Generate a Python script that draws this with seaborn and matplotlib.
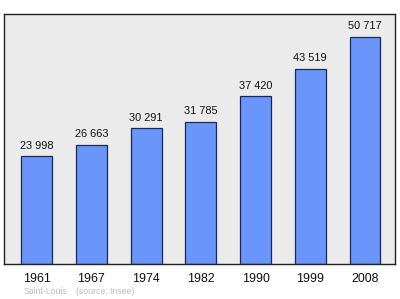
import matplotlib
matplotlib.use("Agg")
import matplotlib.pyplot as plt
import seaborn as sns
import pandas as pd

years = ["1961", "1967", "1974", "1982", "1990", "1999", "2008"]
population = [23998, 26663, 30291, 31785, 37420, 43519, 50717]
value_labels = ["23 998", "26 663", "30 291", "31 785", "37 420", "43 519", "50 717"]
footer_place = "Saint-Louis"
footer_source = "(source: Insee)"

sns.set_theme(style="white")
plt.rcParams['font.family'] = ['Liberation Sans', 'DejaVu Sans']

df = pd.DataFrame({"year": years, "pop": population})

fig = plt.figure(figsize=(4.0, 2.99), dpi=100)
ax = fig.add_axes([0.01, 0.117, 0.9775, 0.836])
ax.set_facecolor("#ebebeb")

sns.barplot(data=df, x="year", y="pop", color="#6a95fb", saturation=1,
            width=0.566, edgecolor="#1a2a55", linewidth=0.9, ax=ax)

for i, (v, lab) in enumerate(zip(population, value_labels)):
    ax.annotate(lab, (i, v), xytext=(0, 4), textcoords="offset points",
                ha="center", va="bottom", fontsize=7.9, color="#111111")

ax.set_xlim(-0.594, 6.548)
ax.set_ylim(0, 55780)
ax.set_yticks([])
ax.set_xlabel("")
ax.set_ylabel("")
ax.tick_params(axis="x", length=0, pad=6.5, labelsize=8.9, labelcolor="#111111")
for s in ax.spines.values():
    s.set_color("#222222")
    s.set_linewidth(1.0)

fig.text(24/400, 1 - 292/299, footer_place, fontsize=6.3, color="#bdbdbd", va="center", ha="left")
fig.text(76/400, 1 - 292/299, footer_source, fontsize=6.3, color="#bdbdbd", va="center", ha="left")

fig.savefig("out.png", dpi=100)
